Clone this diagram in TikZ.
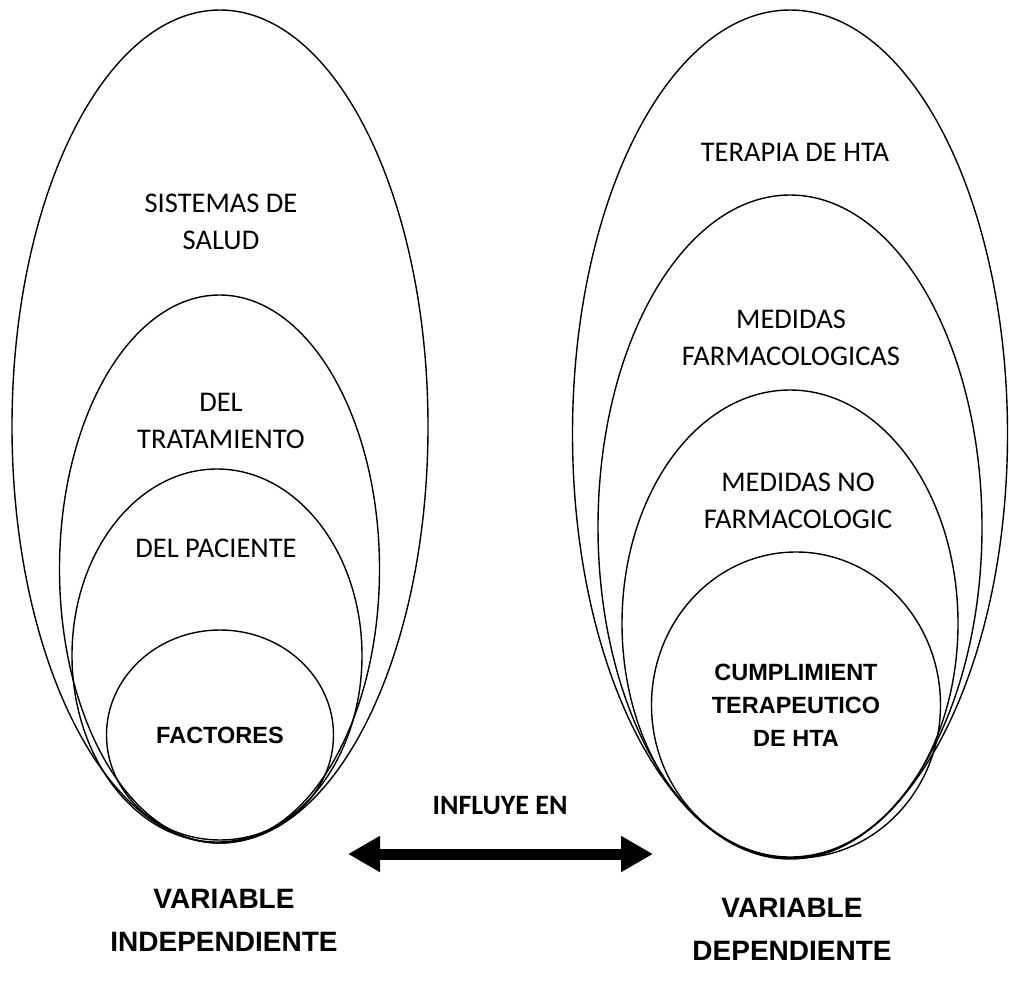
\documentclass[tikz,border=0pt]{standalone}
\usepackage{fontspec}
\setmainfont{Carlito}
\newfontfamily\arialfont{Liberation Sans}
\usepackage{tikz}
\usetikzlibrary{arrows.meta,shapes.geometric}
\definecolor{VBInk}{HTML}{000000}
\definecolor{VBPaper}{HTML}{FFFFFF}
\tikzset{
  ring/.style={draw=VBInk,line width=1.4pt,ellipse,inner sep=0pt},
  ringtext/.style={text=VBInk,font=\fontsize{28.5}{37}\selectfont,align=center},
  ringbold/.style={text=VBInk,font=\arialfont\bfseries\fontsize{23.5}{33}\selectfont,align=center},
  varlabel/.style={text=VBInk,font=\arialfont\bfseries\fontsize{28}{43}\selectfont,align=center},
  linklabel/.style={text=VBInk,font=\bfseries\fontsize{28}{32}\selectfont,align=center},
  influence/.style={{Triangle[length=32pt,width=34pt]}-{Triangle[length=32pt,width=34pt]},
                    draw=VBInk,line width=11pt},
}

\begin{document}
\begin{tikzpicture}[x=1pt,y=-1pt]
    \fill[VBPaper] (0,0) rectangle (1009,983);
    \useasboundingbox (0,0) rectangle (1009,983);

    % independent side
    \node[ring,minimum width=416pt,minimum height=833pt] (salud) at (220,426.5) {};
    \node[ring,minimum width=320pt,minimum height=548pt] (tratam) at (219.5,569) {};
    \node[ring,minimum width=290pt,minimum height=373pt] (paciente) at (217,655.5) {};
    \node[ring,minimum width=227pt,minimum height=210pt] (factores) at (220,735) {};

    \node[ringtext] (saludtxt) at (221,222) {SISTEMAS DE\\SALUD};
    \node[ringtext] (tratamtxt) at (221,421) {DEL\\TRATAMIENTO};
    \node[ringtext] (pacientetxt) at (216,548) {DEL PACIENTE};
    \node[ringbold] (factorestxt) at (220,735) {FACTORES};

    % dependent side
    \node[ring,minimum width=435pt,minimum height=848pt] (terapia) at (790,434) {};
    \node[ring,minimum width=384pt,minimum height=664pt] (farmaco) at (790,527) {};
    \node[ring,minimum width=336pt,minimum height=467pt] (nofarmaco) at (790,623.5) {};
    \node[ring,minimum width=289pt,minimum height=306pt] (cumpl) at (796,705) {};

    \node[ringtext] (terapiatxt) at (795,152) {TERAPIA DE HTA};
    \node[ringtext] (farmacotxt) at (791,338) {MEDIDAS\\FARMACOLOGICAS};
    \node[ringtext] (nofarmacotxt) at (798,501) {MEDIDAS NO\\FARMACOLOGIC};
    \node[ringbold] (cumpltxt) at (796,705) {CUMPLIMIENT\\TERAPEUTICO\\DE HTA};

    % link between the two variables
    \coordinate (linkL) at (348,854);
    \coordinate (linkR) at (653,854);
    \draw[influence] (linkL) -- (linkR);
    \node[linklabel] (influye) at (500,806) {INFLUYE EN};

    \node[varlabel] (indep) at (224,920) {VARIABLE\\INDEPENDIENTE};
    \node[varlabel] (dep) at (792,929) {VARIABLE\\DEPENDIENTE};
\end{tikzpicture}
\end{document}
